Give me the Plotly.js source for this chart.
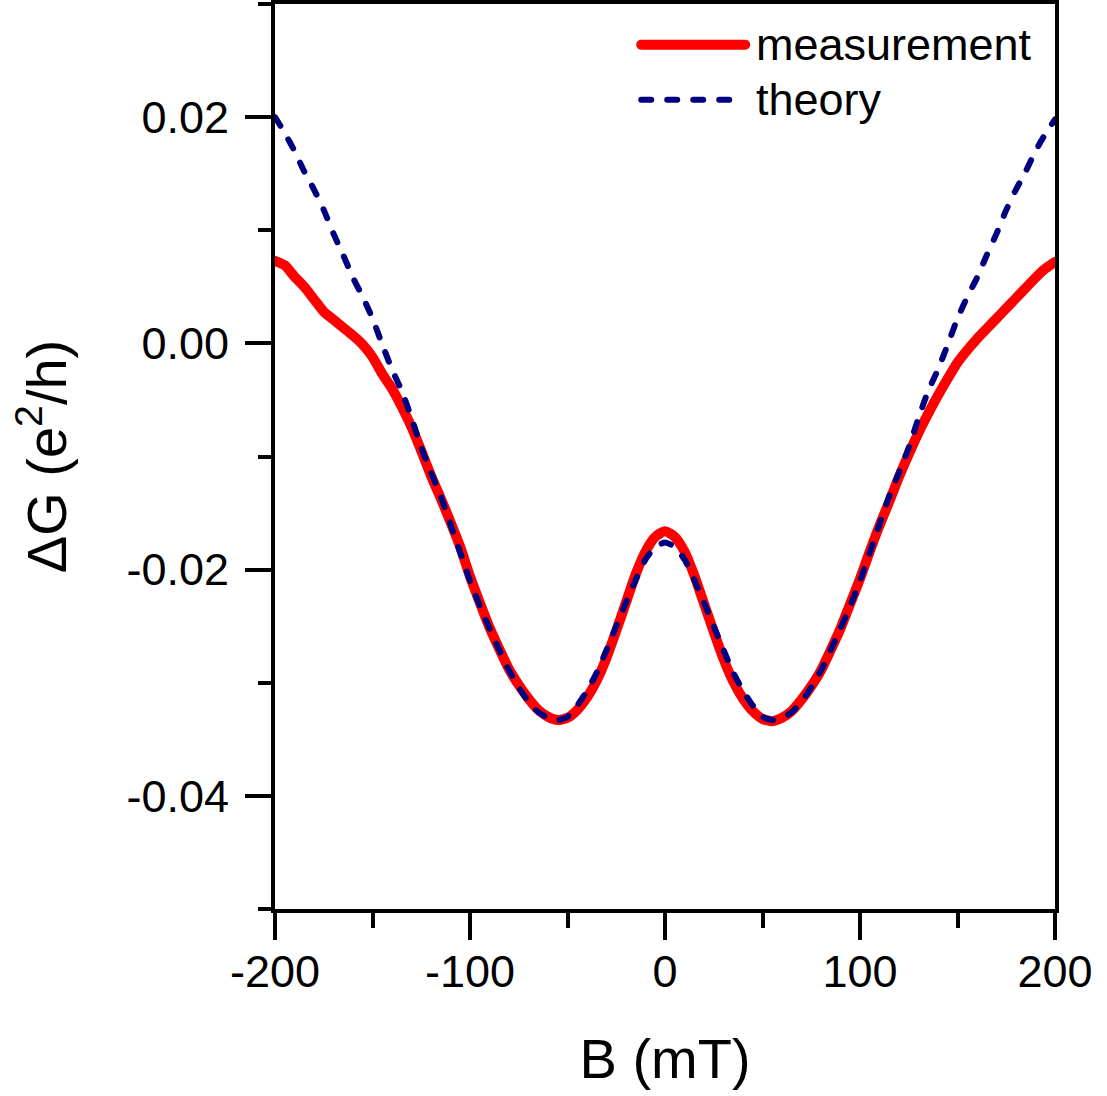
<!DOCTYPE html>
<html>
<head>
<meta charset="utf-8">
<script src="https://cdn.plot.ly/plotly-3.0.1.min.js"></script>
<style>
  html, body { margin: 0; padding: 0; background: #fff; }
  #chart { width: 1107px; height: 1096px; }
  .scatterlayer .js-line, .shapelayer path { stroke-linecap: round !important; stroke-linejoin: round !important; }
</style>
</head>
<body>
<div id="chart"></div>
<script>
// Magnetic field sweep (mT)
const fieldB = [
  -200, -195, -190, -185, -180, -175, -170, -165, -160, -155,
  -150, -145, -140, -135, -130, -125, -120, -115, -110, -105,
  -100, -95, -90, -85, -80, -75, -70, -65, -60, -55,
  -50, -45, -40, -35, -30, -25, -20, -15, -10, -5,
  0, 5, 10, 15, 20, 25, 30, 35, 40, 45,
  50, 55, 60, 65, 70, 75, 80, 85, 90, 95,
  100, 105, 110, 115, 120, 125, 130, 135, 140, 145,
  150, 155, 160, 165, 170, 175, 180, 185, 190, 195, 200
];

// Measured conductance correction (e^2/h)
const measuredG = [
  0.0073, 0.0069, 0.0059, 0.0050, 0.0039, 0.0028, 0.0021, 0.0014, 0.0007, -0.0001,
  -0.0012, -0.0027, -0.0040, -0.0056, -0.0074, -0.0095, -0.0117, -0.0137, -0.0158, -0.0180,
  -0.0206, -0.0229, -0.0251, -0.0270, -0.0288, -0.0302, -0.0314, -0.0324, -0.0330, -0.0333,
  -0.0331, -0.0324, -0.0313, -0.0298, -0.0278, -0.0254, -0.0229, -0.0204, -0.0184, -0.0171,
  -0.0166,
  -0.0171, -0.0184, -0.0205, -0.0230, -0.0255, -0.0279, -0.0299, -0.0314, -0.0325,
  -0.0332, -0.0334, -0.0331, -0.0325, -0.0315, -0.0303, -0.0289, -0.0271, -0.0252, -0.0230,
  -0.0208, -0.0184, -0.0161, -0.0140, -0.0118, -0.0098, -0.0079, -0.0062, -0.0046, -0.0031,
  -0.0017, -0.0006, 0.0004, 0.0013, 0.0022, 0.0031, 0.0040, 0.0049, 0.0058, 0.0066, 0.0072
];

// Theoretical curve (e^2/h)
const theoryG = [
  0.0200, 0.0186, 0.0170, 0.0152, 0.0136, 0.0118, 0.0097, 0.0078, 0.0058, 0.0041,
  0.0022, -0.0001, -0.0023, -0.0042, -0.0066, -0.0092, -0.0114, -0.0135, -0.0160, -0.0185,
  -0.0210, -0.0232, -0.0252, -0.0271, -0.0289, -0.0304, -0.0317, -0.0326, -0.0331, -0.0333,
  -0.0330, -0.0320, -0.0307, -0.0291, -0.0271, -0.0250, -0.0229, -0.0209, -0.0191, -0.0180,
  -0.0176,
  -0.0180, -0.0191, -0.0209, -0.0229, -0.0250, -0.0271, -0.0291, -0.0307, -0.0320,
  -0.0330, -0.0333, -0.0331, -0.0326, -0.0317, -0.0304, -0.0289, -0.0271, -0.0252, -0.0232,
  -0.0210, -0.0185, -0.0160, -0.0135, -0.0114, -0.0092, -0.0066, -0.0042, -0.0023, -0.0001,
  0.0022, 0.0041, 0.0058, 0.0078, 0.0097, 0.0118, 0.0136, 0.0152, 0.0170, 0.0185, 0.0198
];

const seriesNames = ['measurement', 'theory'];

// Axis tick positions and labels (plain hyphen minus)
const xTickVals = [-200, -100, 0, 100, 200];
const xTickText = ['-200', '-100', '0', '100', '200'];
const yTickVals = [-0.04, -0.02, 0, 0.02];
const yTickText = ['-0.04', '-0.02', '0.00', '0.02'];

const FONT = 'Liberation Sans, Arial, Helvetica, sans-serif';
const RED = '#ff0000';
const NAVY = '#000080';

const traces = [
  {
    x: fieldB, y: measuredG, name: seriesNames[0], type: 'scatter', mode: 'lines',
    line: { color: RED, width: 10, shape: 'spline', smoothing: 0.6 },
    showlegend: false
  },
  {
    x: fieldB, y: theoryG, name: seriesNames[1], type: 'scatter', mode: 'lines',
    line: { color: NAVY, width: 6, dash: '10px,16px', shape: 'spline', smoothing: 0.6 },
    showlegend: false
  }
];

// Legend key: sample line + label, placed in paper coordinates at top right
const keyX0 = 0.4695, keyX1 = 0.6028, keyText = 0.6140;
const keyRows = [0.955, 0.8942];

const layout = {
  width: 1107, height: 1096,
  margin: { l: 275, r: 52, t: 4, b: 187, pad: 0 },
  paper_bgcolor: '#fff', plot_bgcolor: '#fff',
  font: { family: FONT, color: '#000', size: 45 },
  showlegend: false,
  xaxis: {
    range: [-200, 200],
    tickmode: 'array', tickvals: xTickVals, ticktext: xTickText,
    ticks: 'outside', ticklen: 27, tickwidth: 4, tickcolor: '#000',
    ticklabelstandoff: -7,
    minor: { dtick: 50, tick0: 0, ticks: 'outside', ticklen: 15, tickwidth: 4, tickcolor: '#000' },
    showline: true, linewidth: 4, linecolor: '#000', mirror: true,
    showgrid: false, zeroline: false,
    tickfont: { family: FONT, size: 45, color: '#000' },
    title: { text: 'B (mT)', font: { family: FONT, size: 56, color: '#000' }, standoff: 44 },
    automargin: false
  },
  yaxis: {
    range: [-0.05, 0.03],
    tickmode: 'array', tickvals: yTickVals, ticktext: yTickText,
    ticks: 'outside', ticklen: 26, tickwidth: 4, tickcolor: '#000',
    ticklabelstandoff: 7,
    minor: { dtick: 0.01, tick0: 0, ticks: 'outside', ticklen: 13, tickwidth: 4, tickcolor: '#000' },
    showline: true, linewidth: 4, linecolor: '#000', mirror: true,
    showgrid: false, zeroline: false,
    tickfont: { family: FONT, size: 45, color: '#000' },
    title: { text: 'ΔG (e<sup>2</sup>/h)', font: { family: FONT, size: 56, color: '#000' }, standoff: 43 },
    automargin: false
  },
  shapes: [
    { type: 'line', xref: 'paper', yref: 'paper', x0: keyX0, x1: keyX1, y0: keyRows[0], y1: keyRows[0],
      line: { color: RED, width: 10 } },
    { type: 'line', xref: 'paper', yref: 'paper', x0: keyX0, x1: keyX1, y0: keyRows[1], y1: keyRows[1],
      line: { color: NAVY, width: 6, dash: '10px,16px' } }
  ],
  annotations: seriesNames.map((name, i) => ({
    text: name, xref: 'paper', yref: 'paper', x: keyText, y: keyRows[i],
    xanchor: 'left', yanchor: 'middle', showarrow: false,
    font: { family: FONT, size: 45, color: '#000' }
  }))
};

Plotly.newPlot('chart', traces, layout, { displayModeBar: false, staticPlot: true });
</script>
</body>
</html>
